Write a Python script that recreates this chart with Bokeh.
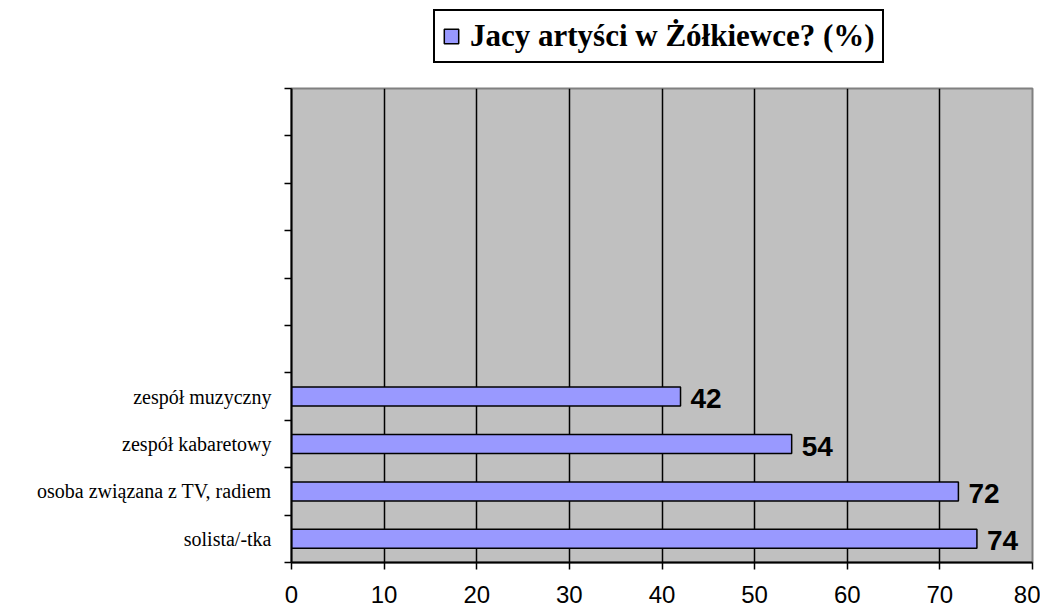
from bokeh.plotting import figure
from bokeh.layouts import column
from bokeh.models import (Range1d, FixedTicker, Legend, LegendItem, ColumnDataSource)
from bokeh.core.properties import value
from bokeh.embed import file_html
from bokeh.resources import INLINE

categories = ["solista/-tka", "osoba związana z TV, radiem", "zespół kabaretowy", "zespół muzyczny"]
values = [74, 72, 54, 42]
x_ticks = [0, 10, 20, 30, 40, 50, 60, 70, 80]
series_name = "Jacy artyści w Żółkiewce? (%)"
n_slots = 10

BAR_FILL = "#9999FF"
positions = list(range(len(categories)))
src = ColumnDataSource(dict(y=positions, v=values, lbl=[str(v) for v in values]))

# ---- legend strip on top ----
lg = figure(width=1040, height=86, output_backend="svg", toolbar_location=None,
            x_axis_type=None, y_axis_type=None, x_range=Range1d(0, 1), y_range=Range1d(0, 1),
            min_border=0)
lg.outline_line_color = None
lg.xgrid.visible = False
lg.ygrid.visible = False
lg.background_fill_color = "white"
lg.border_fill_color = "white"
# swatch source for the legend only (a tiny bar hidden behind the legend box)
dummy = lg.hbar(y=[0.5], right=[0.41], left=0.40, height=0.05,
                fill_color=BAR_FILL, line_color="black", line_width=1.5)
legend = Legend(items=[LegendItem(label=series_name, renderers=[dummy], index=0)],
                location=(142, 23), margin=0, padding=7,
                glyph_width=18, glyph_height=18, label_standoff=10,
                label_text_font="Liberation Serif", label_text_font_style="bold",
                label_text_font_size="31px", label_text_color="black",
                border_line_color="black", border_line_width=2, border_line_alpha=1,
                background_fill_color="white", background_fill_alpha=1)
lg.add_layout(legend, "center")

# ---- main chart ----
p = figure(width=1040, height=520, output_backend="svg", toolbar_location=None,
           x_range=Range1d(0, 80), y_range=Range1d(-0.5, n_slots - 0.5),
           min_border_left=291, min_border_right=8, min_border_top=2, min_border_bottom=44)

p.border_fill_color = "white"
p.background_fill_color = "#C0C0C0"
p.outline_line_color = "#808080"
p.outline_line_width = 2

p.ygrid.visible = False
p.xgrid.ticker = FixedTicker(ticks=x_ticks[1:-1])
p.xgrid.grid_line_color = "black"
p.xgrid.grid_line_width = 1.5

bars = p.hbar(y="y", right="v", left=0, height=0.4, source=src,
              fill_color=BAR_FILL, line_color="black", line_width=1.5)

p.text(x="v", y="y", text="lbl", source=src, x_offset=10, y_offset=2,
       text_baseline="middle", text_align="left",
       text_font=value("Liberation Sans"), text_font_style="bold",
       text_font_size="28px", text_color="black")

xa = p.xaxis[0]
xa.ticker = FixedTicker(ticks=x_ticks)
xa.axis_line_color = "black"
xa.axis_line_width = 2
xa.major_tick_line_color = "black"
xa.major_tick_line_width = 1.5
xa.major_tick_in = 0
xa.major_tick_out = 7
xa.minor_tick_line_color = None
xa.major_label_standoff = 16
xa.major_label_text_font = "Liberation Sans"
xa.major_label_text_font_size = "24px"
xa.major_label_text_color = "black"

ya = p.yaxis[0]
ya.ticker = FixedTicker(ticks=positions,
                        minor_ticks=[i - 0.5 for i in range(n_slots + 1)])
ya.major_label_overrides = {i: c for i, c in zip(positions, categories)}
ya.axis_line_color = "black"
ya.axis_line_width = 2
ya.major_tick_line_color = None
ya.minor_tick_line_color = "black"
ya.minor_tick_line_width = 1.5
ya.minor_tick_in = 0
ya.minor_tick_out = 7
ya.major_label_standoff = 13
ya.major_label_text_font = "Liberation Serif"
ya.major_label_text_font_size = "20px"
ya.major_label_text_color = "black"

layout = column(lg, p, spacing=0)
open("out.html", "w").write(file_html(layout, INLINE))
